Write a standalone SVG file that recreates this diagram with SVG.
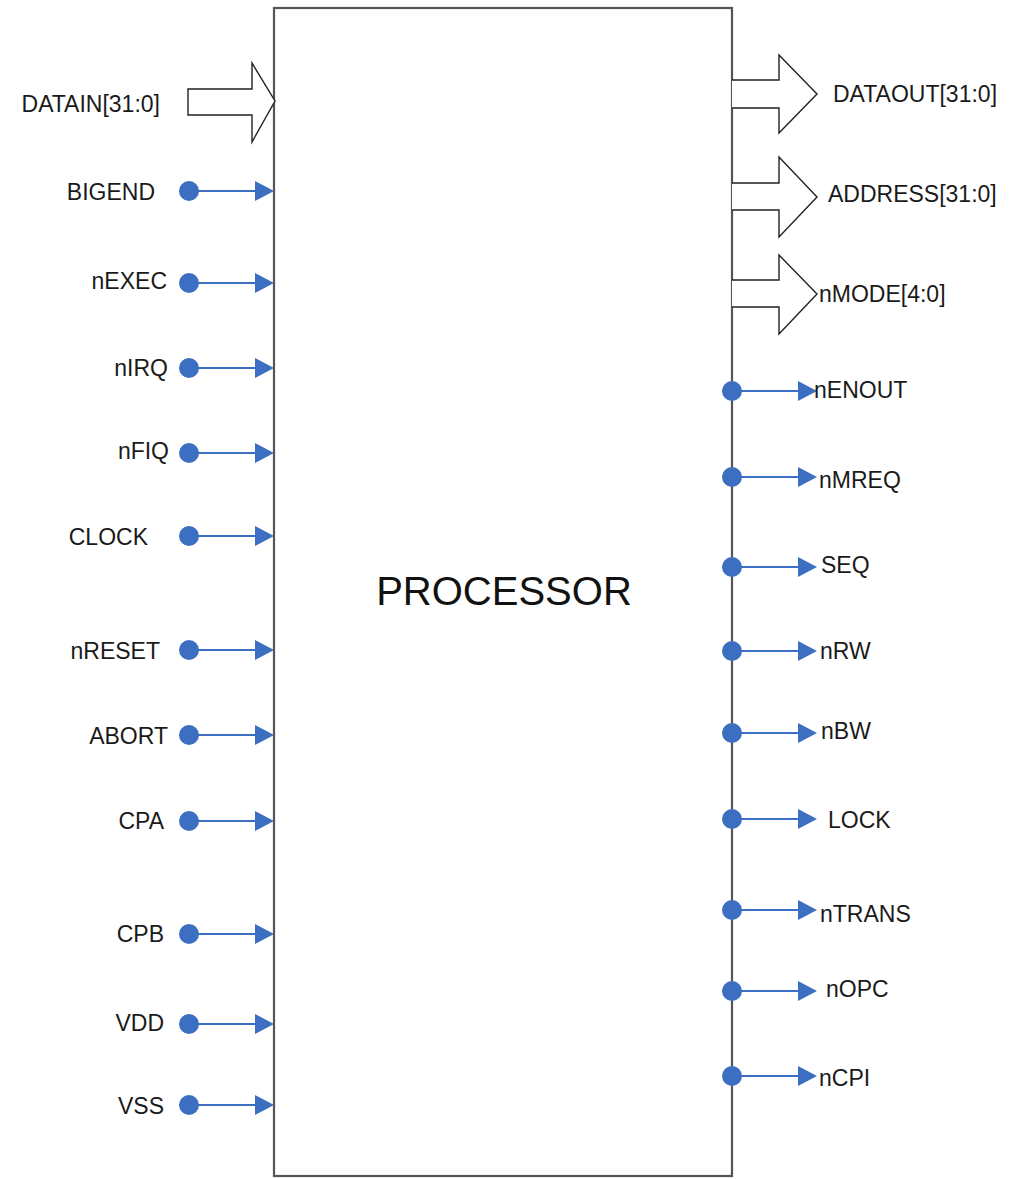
<svg xmlns="http://www.w3.org/2000/svg" width="1009" height="1179" viewBox="0 0 1009 1179">
<defs>
<style>
.lbl{font-family:"Liberation Sans",Arial,sans-serif;font-size:23px;fill:#1a1a1a}
.l{text-anchor:end}
.title{font-family:"Liberation Sans",Arial,sans-serif;font-size:40px;fill:#111;text-anchor:middle}
.bus{fill:#fff;stroke:#222;stroke-width:1.4;stroke-linejoin:miter}
.wire{stroke:#3c6fc2;stroke-width:1.8;fill:none}
.dot{fill:#3c6fc2}
.head{fill:#3c6fc2}
.box{fill:#fff;stroke:#555;stroke-width:2.2}
</style>
<circle id="pinDot" r="10" class="dot"/>
<polygon id="pinHead" points="0,-10 19,0 0,10" class="head"/>
</defs>
<rect width="1009" height="1179" fill="#fff"/>
<g id="processor">
<rect x="274" y="8" width="458" height="1168" class="box"/>
<text class="title" x="504" y="605">PROCESSOR</text>
</g>
<g id="connectors">
<polygon class="bus" points="188,89 252,89 252,63 275,101 252,142 252,115 188,115"/>
<polyline class="bus" points="732,80 779,80 779,55 817,94 779,133 779,108 732,108"/>
<polyline class="bus" points="732,183 779,183 779,157 817,197 779,237 779,210 732,210"/>
<polyline class="bus" points="732,280 779,280 779,255 817,294 779,334 779,307 732,307"/>
<g id="leftWires">
<line class="wire" x1="189" y1="191" x2="258" y2="191"/><use href="#pinDot" x="189" y="191"/><use href="#pinHead" x="255" y="191"/>
<line class="wire" x1="189" y1="283" x2="258" y2="283"/><use href="#pinDot" x="189" y="283"/><use href="#pinHead" x="255" y="283"/>
<line class="wire" x1="189" y1="368" x2="258" y2="368"/><use href="#pinDot" x="189" y="368"/><use href="#pinHead" x="255" y="368"/>
<line class="wire" x1="189" y1="453" x2="258" y2="453"/><use href="#pinDot" x="189" y="453"/><use href="#pinHead" x="255" y="453"/>
<line class="wire" x1="189" y1="536" x2="258" y2="536"/><use href="#pinDot" x="189" y="536"/><use href="#pinHead" x="255" y="536"/>
<line class="wire" x1="189" y1="650" x2="258" y2="650"/><use href="#pinDot" x="189" y="650"/><use href="#pinHead" x="255" y="650"/>
<line class="wire" x1="189" y1="735" x2="258" y2="735"/><use href="#pinDot" x="189" y="735"/><use href="#pinHead" x="255" y="735"/>
<line class="wire" x1="189" y1="821" x2="258" y2="821"/><use href="#pinDot" x="189" y="821"/><use href="#pinHead" x="255" y="821"/>
<line class="wire" x1="189" y1="934" x2="258" y2="934"/><use href="#pinDot" x="189" y="934"/><use href="#pinHead" x="255" y="934"/>
<line class="wire" x1="189" y1="1024" x2="258" y2="1024"/><use href="#pinDot" x="189" y="1024"/><use href="#pinHead" x="255" y="1024"/>
<line class="wire" x1="189" y1="1105" x2="258" y2="1105"/><use href="#pinDot" x="189" y="1105"/><use href="#pinHead" x="255" y="1105"/>
</g>
<g id="rightWires">
<line class="wire" x1="732" y1="391" x2="800" y2="391"/><use href="#pinDot" x="732" y="391"/><use href="#pinHead" x="798" y="391"/>
<line class="wire" x1="732" y1="477" x2="800" y2="477"/><use href="#pinDot" x="732" y="477"/><use href="#pinHead" x="798" y="477"/>
<line class="wire" x1="732" y1="567" x2="800" y2="567"/><use href="#pinDot" x="732" y="567"/><use href="#pinHead" x="798" y="567"/>
<line class="wire" x1="732" y1="651" x2="800" y2="651"/><use href="#pinDot" x="732" y="651"/><use href="#pinHead" x="798" y="651"/>
<line class="wire" x1="732" y1="733" x2="800" y2="733"/><use href="#pinDot" x="732" y="733"/><use href="#pinHead" x="798" y="733"/>
<line class="wire" x1="732" y1="819" x2="800" y2="819"/><use href="#pinDot" x="732" y="819"/><use href="#pinHead" x="798" y="819"/>
<line class="wire" x1="732" y1="910" x2="800" y2="910"/><use href="#pinDot" x="732" y="910"/><use href="#pinHead" x="798" y="910"/>
<line class="wire" x1="732" y1="991" x2="800" y2="991"/><use href="#pinDot" x="732" y="991"/><use href="#pinHead" x="798" y="991"/>
<line class="wire" x1="732" y1="1076" x2="800" y2="1076"/><use href="#pinDot" x="732" y="1076"/><use href="#pinHead" x="798" y="1076"/>
</g>
</g>
<g id="leftLabels">
<text class="lbl l" x="160" y="112">DATAIN[31:0]</text>
<text class="lbl l" x="155" y="200">BIGEND</text>
<text class="lbl l" x="167" y="289">nEXEC</text>
<text class="lbl l" x="168" y="376">nIRQ</text>
<text class="lbl l" x="169" y="459">nFIQ</text>
<text class="lbl l" x="148" y="545">CLOCK</text>
<text class="lbl l" x="160" y="659">nRESET</text>
<text class="lbl l" x="168" y="744">ABORT</text>
<text class="lbl l" x="164" y="829">CPA</text>
<text class="lbl l" x="164" y="942">CPB</text>
<text class="lbl l" x="164" y="1031">VDD</text>
<text class="lbl l" x="164" y="1114">VSS</text>
</g>
<g id="rightLabels">
<text class="lbl" x="833" y="102">DATAOUT[31:0]</text>
<text class="lbl" x="828" y="202">ADDRESS[31:0]</text>
<text class="lbl" x="819" y="302">nMODE[4:0]</text>
<text class="lbl" x="814" y="398">nENOUT</text>
<text class="lbl" x="819" y="488">nMREQ</text>
<text class="lbl" x="821" y="573">SEQ</text>
<text class="lbl" x="820" y="659">nRW</text>
<text class="lbl" x="821" y="739">nBW</text>
<text class="lbl" x="828" y="828">LOCK</text>
<text class="lbl" x="820" y="922">nTRANS</text>
<text class="lbl" x="826" y="997">nOPC</text>
<text class="lbl" x="819" y="1086">nCPI</text>
</g>
</svg>
